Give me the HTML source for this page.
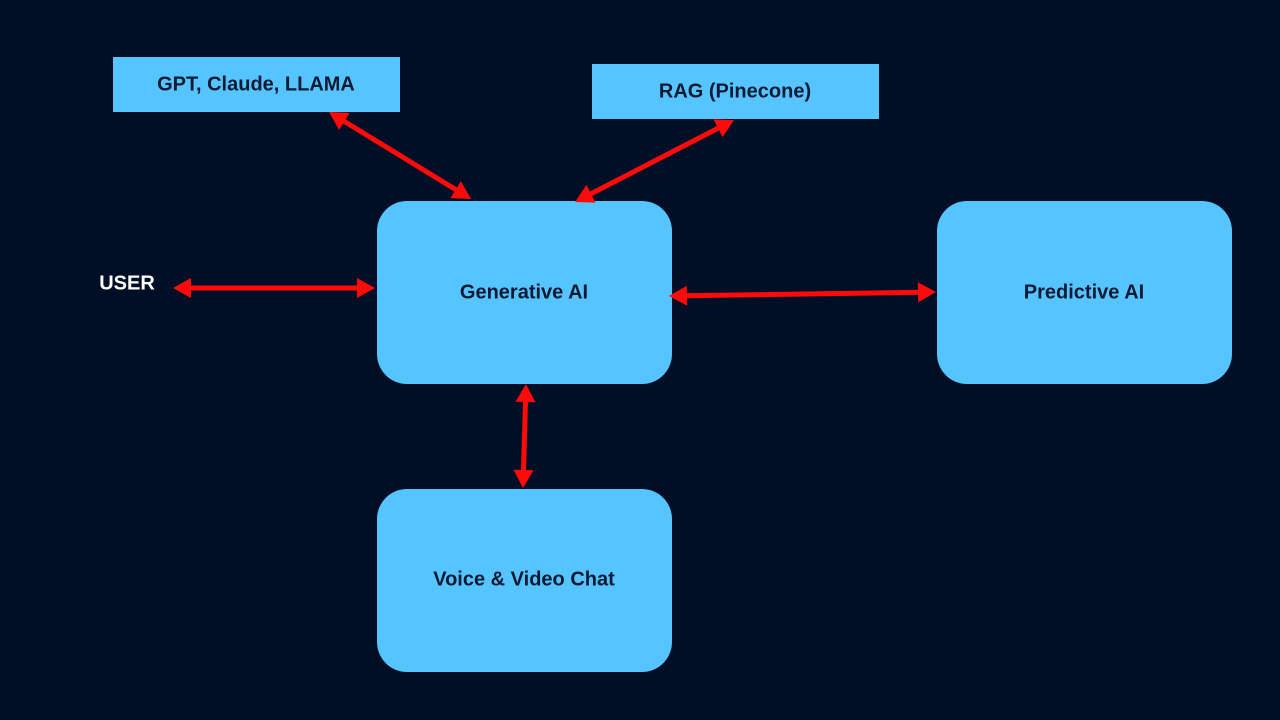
<!DOCTYPE html>
<html><head><meta charset="utf-8"><style>
html,body{margin:0;padding:0;background:#000f26;}
svg{display:block}
text{font-family:"Liberation Sans",sans-serif;font-weight:bold;fill:#0a1a33;font-size:20px;text-anchor:middle;dominant-baseline:middle}
</style></head><body>
<svg id="s" width="1280" height="720" viewBox="0 0 1280 720">
<rect width="1280" height="720" fill="#000f26"/>
<rect x="113" y="57" width="287" height="55" fill="#56c4ff"/>
<rect x="592" y="64" width="287" height="55" fill="#56c4ff"/>
<rect x="377" y="201" width="295" height="183" rx="30" fill="#56c4ff"/>
<rect x="937" y="201" width="295" height="183" rx="30" fill="#56c4ff"/>
<rect x="377" y="489" width="295" height="183" rx="30" fill="#56c4ff"/>
<text x="256" y="85">GPT, Claude, LLAMA</text>
<text x="735" y="92">RAG (Pinecone)</text>
<text x="524" y="293">Generative AI</text>
<text x="1084" y="293">Predictive AI</text>
<text x="524" y="580">Voice &amp; Video Chat</text>
<text x="127" y="284" style="fill:#ffffff">USER</text>
<g id="g"></g>
</svg>
<script>
var A=[[329,112,471,199],[734,120,575,202],[173,288,375,288],[669,296,936,292],[526,384,523,488]];
var g=document.getElementById('g'),ns='http://www.w3.org/2000/svg',h='';
A.forEach(function(a){
 var dx=a[2]-a[0],dy=a[3]-a[1],L=Math.hypot(dx,dy),ux=dx/L,uy=dy/L,px=-uy,py=ux,H=18,W=10;
 h+='<line x1="'+(a[0]+ux*15)+'" y1="'+(a[1]+uy*15)+'" x2="'+(a[2]-ux*15)+'" y2="'+(a[3]-uy*15)+'" stroke="#ff0a0a" stroke-width="5"/>';
 [[a[0],a[1],1],[a[2],a[3],-1]].forEach(function(t){
  var bx=t[0]+t[2]*ux*H,by=t[1]+t[2]*uy*H;
  h+='<polygon fill="#ff0a0a" points="'+t[0]+','+t[1]+' '+(bx+px*W)+','+(by+py*W)+' '+(bx-px*W)+','+(by-py*W)+'"/>';
 });
});
g.innerHTML=h;
</script>
</body></html>
